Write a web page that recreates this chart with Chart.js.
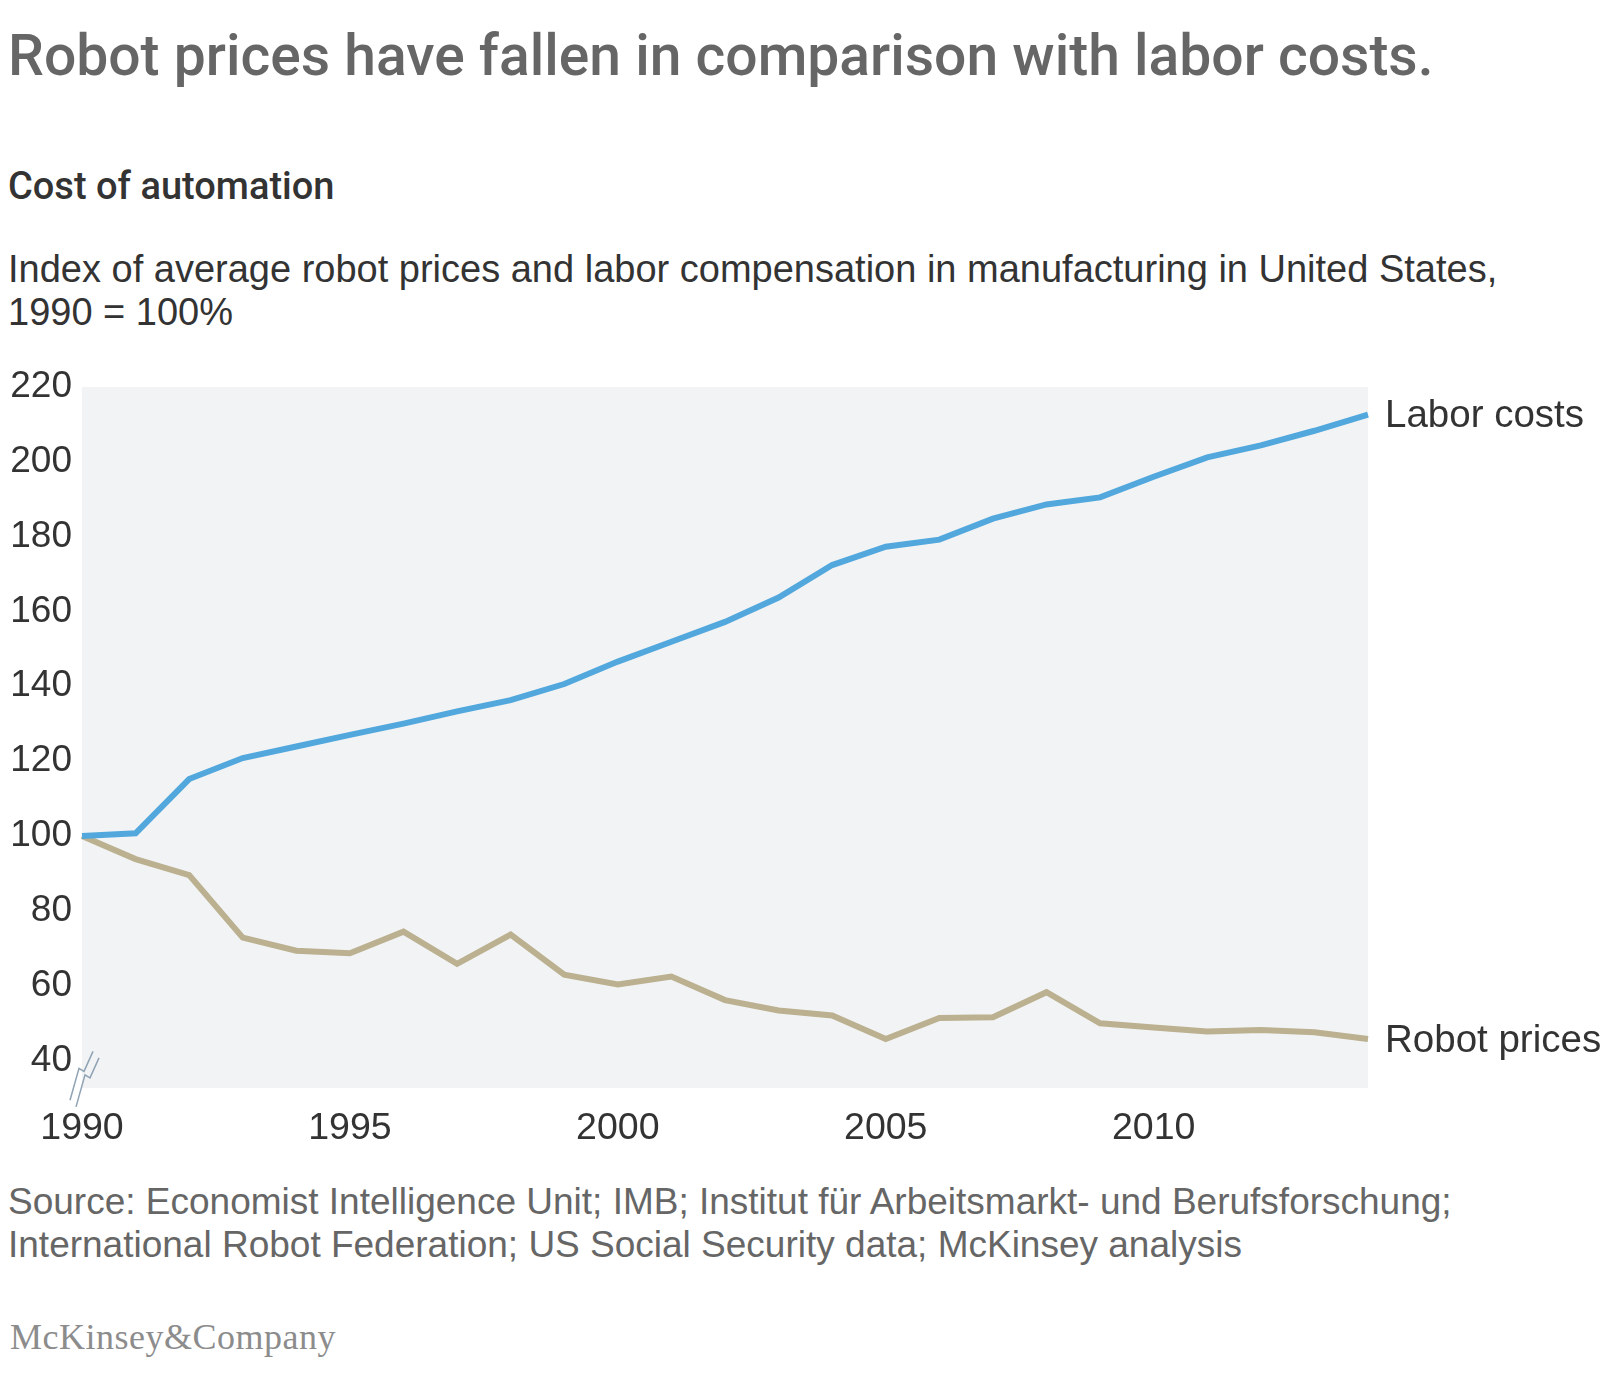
<!DOCTYPE html>
<html>
<head>
<meta charset="utf-8">
<script src="https://cdn.jsdelivr.net/npm/chart.js@4.4.1/dist/chart.umd.min.js"></script>
<style>
  html, body { margin: 0; padding: 0; background: #fff; }
  body { width: 1610px; height: 1376px; position: relative; overflow: hidden; font-family: "Liberation Sans", Arial, sans-serif; }
  .t { position: absolute; left: 8px; white-space: nowrap; }
  #title { top: 22px; font-size: 57px; color: #666; font-family: Roboto, "Liberation Sans", sans-serif; font-weight: 500; }
  #sub1 { top: 164px; font-size: 38px; color: #333; font-family: Roboto, "Liberation Sans", sans-serif; font-weight: 500; }
  #sub2 { top: 248px; font-size: 38px; color: #333; line-height: 43px; }
  #source { top: 1180px; font-size: 37px; color: #666; line-height: 43px; }
  #logo { top: 1316px; left: 10px; font-size: 36px; color: #8c8c8c; font-family: "Liberation Serif", "DejaVu Serif", serif; letter-spacing: 0.5px; }
  #wrap { position: absolute; left: 0; top: 340px; width: 1610px; height: 840px; }
</style>
</head>
<body>
<div class="t" id="title">Robot prices have fallen in comparison with labor costs.</div>
<div class="t" id="sub1">Cost of automation</div>
<div class="t" id="sub2">Index of average robot prices and labor compensation in manufacturing in United States,<br>1990 = 100%</div>
<div id="wrap"><canvas id="lineChart" width="1610" height="840"></canvas></div>
<div class="t" id="source">Source: Economist Intelligence Unit; IMB; Institut für Arbeitsmarkt- und Berufsforschung;<br>International Robot Federation; US Social Security data; McKinsey analysis</div>
<div class="t" id="logo">McKinsey&amp;Company</div>
<script>
var years = [1990, 1991, 1992, 1993, 1994, 1995, 1996, 1997, 1998, 1999, 2000, 2001, 2002,
             2003, 2004, 2005, 2006, 2007, 2008, 2009, 2010, 2011, 2012, 2013, 2014];
var laborCosts = [100, 100.7, 115.2, 120.8, 123.9, 127.0, 130.0, 133.3, 136.3, 140.6, 146.6, 151.9, 157.2,
                  163.7, 172.4, 177.3, 179.2, 184.8, 188.6, 190.5, 196.0, 201.2, 204.4, 208.3, 212.6];
var robotPrices = [100, 93.8, 89.5, 72.8, 69.3, 68.6, 74.4, 65.8, 73.6, 62.9, 60.3, 62.4, 56.1,
                   53.3, 52.0, 45.7, 51.3, 51.5, 58.2, 49.9, 48.8, 47.7, 48.1, 47.5, 45.7];
var seriesNames = ['Labor costs', 'Robot prices'];
var yTicks = [40, 60, 80, 100, 120, 140, 160, 180, 200, 220];
var xTicks = [1990, 1995, 2000, 2005, 2010];

function toPoints(vals) {
    var pts = [];
    for (var i = 0; i < years.length; i++) {
        pts.push({ x: years[i], y: vals[i] });
    }
    return pts;
}

// grey panel behind the lines, axis break and end labels
var decor = {
    id: 'decor',
    beforeDatasetsDraw: function (chart) {
        var a = chart.chartArea, ctx = chart.ctx;
        ctx.save();
        ctx.fillStyle = '#f2f3f5';
        ctx.fillRect(a.left, a.top, a.right - a.left, a.bottom - a.top);
        ctx.restore();
    },
    afterDatasetsDraw: function (chart) {
        var a = chart.chartArea, ctx = chart.ctx;
        var y40 = chart.scales.y.getPixelForValue(40);
        ctx.save();
        ctx.strokeStyle = '#8fa3b4';
        ctx.lineWidth = 1.5;
        [0, 6].forEach(function (dx) {
            var x0 = a.left + dx, y0 = y40 + dx * 1.1;
            ctx.beginPath();
            ctx.moveTo(x0 + 11, y0 - 9);
            ctx.lineTo(x0 + 2, y0 + 11);
            ctx.lineTo(x0 - 3, y0 + 8);
            ctx.lineTo(x0 - 12, y0 + 40);
            ctx.stroke();
        });
        ctx.fillStyle = '#333';
        ctx.font = '38.5px "Liberation Sans", Arial, sans-serif';
        ctx.textBaseline = 'middle';
        chart.data.datasets.forEach(function (ds, i) {
            var last = ds.data[ds.data.length - 1];
            ctx.fillText(seriesNames[i], a.right + 17, chart.scales.y.getPixelForValue(last.y) + 2);
        });
        ctx.restore();
    }
};

var ctx = document.getElementById('lineChart').getContext('2d');
var lineChart = new Chart(ctx, {
    type: 'line',
    data: {
        datasets: [
            { label: seriesNames[0], data: toPoints(laborCosts), borderColor: '#52a8dd', borderWidth: 6, pointRadius: 0, tension: 0, clip: false },
            { label: seriesNames[1], data: toPoints(robotPrices), borderColor: '#bbb08f', borderWidth: 6, pointRadius: 0, tension: 0, clip: false }
        ]
    },
    options: {
        responsive: false,
        animation: false,
        devicePixelRatio: 1,
        layout: { padding: { left: 0, right: 242, top: 47, bottom: 22 } },
        plugins: { legend: { display: false }, tooltip: { enabled: false } },
        scales: {
            x: {
                type: 'linear',
                min: 1990,
                max: 2014,
                grid: { display: false, drawTicks: false },
                border: { display: false },
                afterBuildTicks: function (s) { s.ticks = xTicks.map(function (v) { return { value: v }; }); },
                afterFit: function (s) { s.height = 70; },
                ticks: {
                    padding: 18,
                    maxRotation: 0,
                    color: '#333',
                    font: { family: '"Liberation Sans", Arial, sans-serif', size: 37.5 },
                    callback: function (v) { return String(v); }
                }
            },
            y: {
                min: 32.6,
                max: 220,
                grid: { display: false, drawTicks: false },
                border: { display: false },
                afterBuildTicks: function (s) { s.ticks = yTicks.map(function (v) { return { value: v }; }); },
                afterFit: function (s) { s.width = 82; },
                ticks: {
                    padding: 10,
                    color: '#333',
                    font: { family: '"Liberation Sans", Arial, sans-serif', size: 37 },
                    callback: function (v) { return String(v); }
                }
            }
        }
    },
    plugins: [decor]
});
</script>
</body>
</html>
